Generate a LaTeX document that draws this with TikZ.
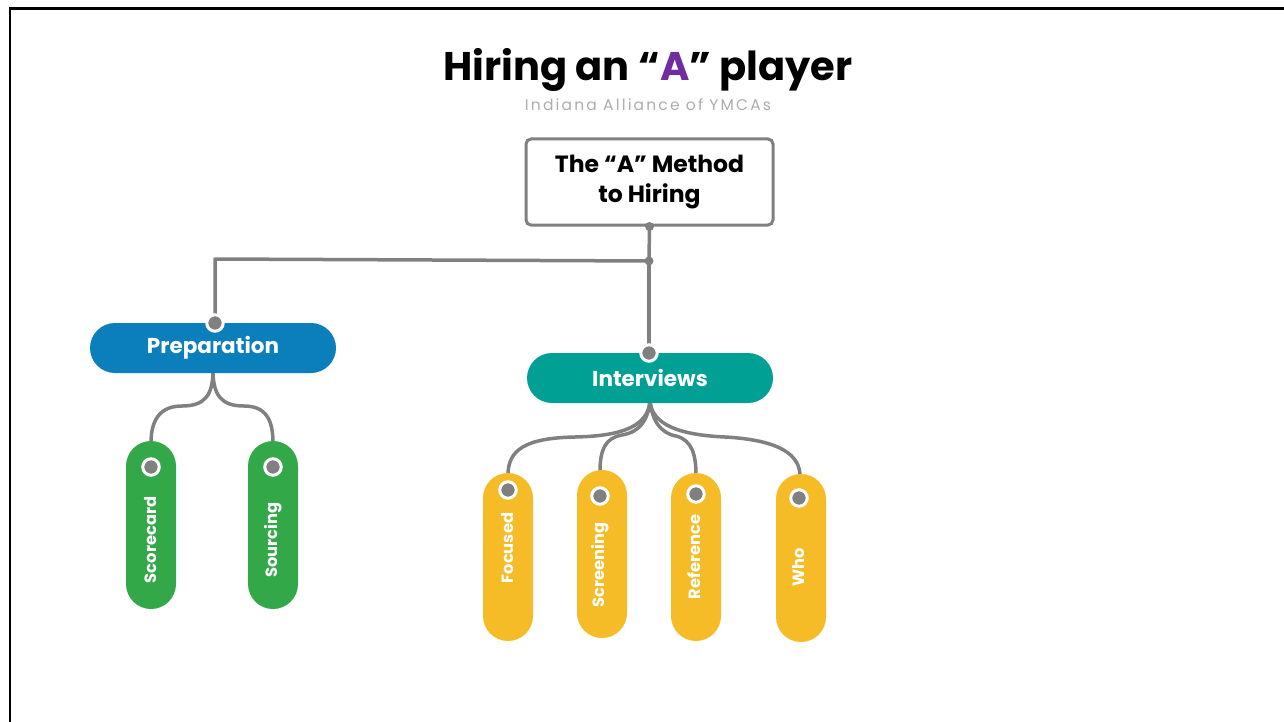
\documentclass[tikz,border=0pt]{standalone}
\usepackage{fontspec}
\setmainfont{Poppins}
\newfontfamily\subfont{Poppins}[LetterSpace=14]
\usetikzlibrary{calc}
\definecolor{linegray}{HTML}{808080}
\definecolor{apurple}{HTML}{6F2DA0}
\definecolor{prepblue}{HTML}{0A7FBC}
\definecolor{intteal}{HTML}{00A194}
\definecolor{pgreen}{HTML}{33A848}
\definecolor{pyellow}{HTML}{F5BC27}
\definecolor{subgray}{HTML}{ADADAD}
\pgfdeclarelayer{bgzero}
\pgfdeclarelayer{lines}
\pgfsetlayers{bgzero,lines,main}
\tikzset{
  conn/.style={draw=linegray, line width=3.5pt, line cap=round, line join=round},
  hpill/.style={rounded corners=25pt, minimum width=246pt, minimum height=50pt, text=white, font=\bfseries\fontsize{21.5}{25}\selectfont, inner sep=0pt},
  vpill/.style={rounded corners=25pt, minimum width=50pt, minimum height=168pt, inner sep=0pt},
  vlabel/.style={rotate=90, text=white, font=\bfseries\fontsize{16.3}{19}\selectfont, inner sep=0pt},
  jdot/.style={fill=linegray, circle, inner sep=0pt, minimum size=9pt},
  ringdot/.style={fill=linegray, draw=white, line width=3pt, circle, inner sep=0pt, minimum size=16.5pt},
}
\begin{document}
\begin{tikzpicture}[x=1pt,y=-1pt]
\useasboundingbox (0,0) rectangle (1284,722);
\begin{pgfonlayer}{bgzero}
\fill[white] (0,0) rectangle (1284,722);
\draw[line width=2.5pt] (10,722) -- (10,8.5) -- (1284,8.5);
\end{pgfonlayer}

\node[font=\bfseries\fontsize{40}{46}\selectfont] (title) at (648,70) {Hiring an “\textcolor{apurple}{A}” player};
\node[font=\subfont\fontsize{15.5}{18}\selectfont, text=subgray] (sub) at (648,105) {Indiana Alliance of YMCAs};

\node[draw=linegray, fill=white, line width=3pt, rounded corners=5pt, minimum width=247pt, minimum height=86pt, align=center, font=\bfseries\fontsize{23.5}{29.5}\selectfont] (top) at (649.5,182) {The “A” Method\\to Hiring};

\node[hpill, fill=prepblue] (prep) at (213,348) {Preparation};
\node[hpill, fill=intteal] (int) at (650,378) {Interviews};

\node[vpill, fill=pgreen] (score) at (151,525) {};
\node[vlabel] (scoret) at (151,540) {Scorecard};
\node[vpill, fill=pgreen] (sourc) at (273,525) {};
\node[vlabel] (sourct) at (273,540) {Sourcing};

\node[vpill, fill=pyellow] (foc) at (508,557) {};
\node[vlabel] (foct) at (508,548) {Focused};
\node[vpill, fill=pyellow] (scr) at (602,554) {};
\node[vlabel] (scrt) at (600,565) {Screening};
\node[vpill, fill=pyellow] (ref) at (696,557) {};
\node[vlabel] (reft) at (694,557) {Reference};
\node[vpill, fill=pyellow] (who) at (801,558) {};
\node[vlabel] (whot) at (799,567) {Who};

\coordinate (j) at (649,261);
\coordinate (jl) at (215,259);

\begin{pgfonlayer}{lines}
\draw[conn] (top.south) -- (j);
\draw[conn] (j) -- (jl) -- (215,323);
\draw[conn] (j) -- (649,353);
\draw[conn] (213,370) .. controls (213,395) and (205,406) .. (182,406) .. controls (160,406) and (151,420) .. (151,443);
\draw[conn] (213,370) .. controls (213,395) and (221,406) .. (244,406) .. controls (266,406) and (273,420) .. (273,443);
\draw[conn] (650,401) .. controls (648,425) and (625,436) .. (575,437) .. controls (525,438) and (508,450) .. (508,475);
\draw[conn] (650,401) .. controls (648,420) and (640,432) .. (622,435) .. controls (605,438) and (600,450) .. (600,472);
\draw[conn] (650,401) .. controls (652,420) and (660,433) .. (676,436) .. controls (692,440) and (696,455) .. (696,475);
\draw[conn] (650,401) .. controls (652,425) and (680,435) .. (725,437) .. controls (780,440) and (800,455) .. (800,476);
\end{pgfonlayer}

\node[jdot] (d1) at (top.south) {};
\node[jdot] (d2) at (j) {};
\node[ringdot] (d3) at (215,323) {};
\node[ringdot] (d4) at (649,353) {};
\node[ringdot] (r1) at (151,467) {};
\node[ringdot] (r2) at (273,467) {};
\node[ringdot] (r3) at (508,490) {};
\node[ringdot] (r4) at (600,496) {};
\node[ringdot] (r5) at (696,494) {};
\node[ringdot] (r6) at (799,498) {};
\end{tikzpicture}
\end{document}
